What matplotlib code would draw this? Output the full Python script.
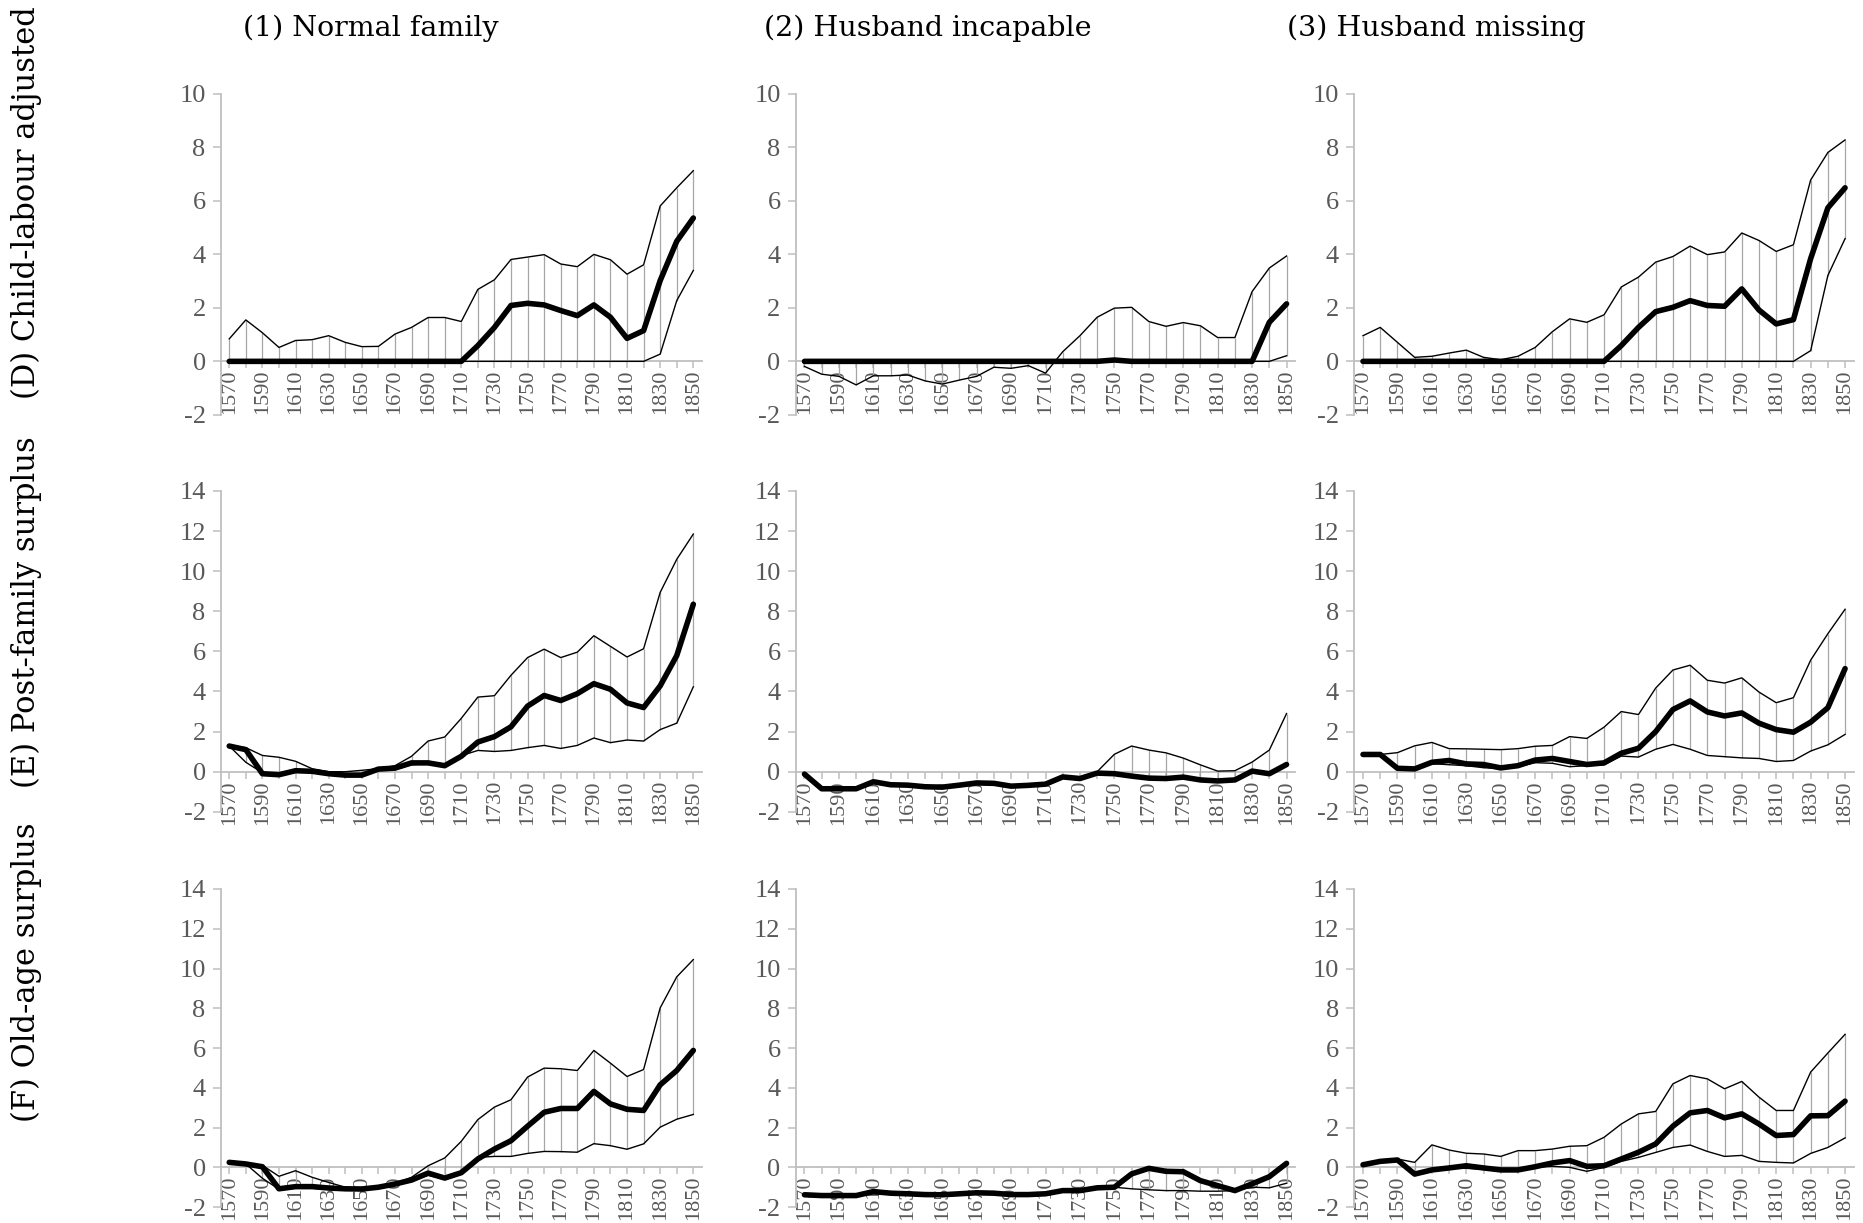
import matplotlib
matplotlib.use("Agg")
import matplotlib.pyplot as plt

plt.rcParams["axes.unicode_minus"] = False
plt.rcParams["font.family"] = ["Liberation Serif", "DejaVu Serif"]
plt.rcParams["xtick.labelsize"] = 16
plt.rcParams["ytick.labelsize"] = 19

# decades on the category axis
years = [1570, 1580, 1590, 1600, 1610, 1620, 1630, 1640, 1650, 1660,
         1670, 1680, 1690, 1700, 1710, 1720, 1730, 1740, 1750, 1760,
         1770, 1780, 1790, 1800, 1810, 1820, 1830, 1840, 1850]
tick_years = years[::2]

col_titles = ["(1) Normal family", "(2) Husband incapable", "(3) Husband missing"]
row_titles = ["(D) Child-labour adjusted", "(E) Post-family surplus", "(F) Old-age surplus"]

# (D) child-labour adjusted
d1_high = [0.84, 1.55, 1.07, 0.52, 0.78, 0.81, 0.96, 0.71, 0.55, 0.56, 1.02, 1.27, 1.64, 1.64, 1.49,
           2.69, 3.05, 3.81, 3.90, 3.99, 3.64, 3.54, 4.0, 3.8, 3.26, 3.61, 5.81, 6.49, 7.13]
d1_mid = [0, 0, 0, 0, 0, 0, 0, 0, 0, 0, 0, 0, 0, 0, 0,
          0.59, 1.27, 2.09, 2.17, 2.11, 1.9, 1.71, 2.11, 1.65, 0.86, 1.15, 3.02, 4.49, 5.36]
d1_low = [0, 0, 0, 0, 0, 0, 0, 0, 0, 0, 0, 0, 0, 0, 0,
          0, 0, 0, 0, 0, 0, 0, 0, 0, 0, 0, 0.27, 2.27, 3.4]

d2_high = [-0.19, -0.48, -0.56, -0.88, -0.54, -0.54, -0.51, -0.73, -0.85, -0.70, -0.56, -0.22, -0.26, -0.16, -0.44,
           0.36, 0.96, 1.65, 1.99, 2.02, 1.49, 1.31, 1.45, 1.33, 0.89, 0.89, 2.61, 3.49, 3.94]
d2_mid = [0, 0, 0, 0, 0, 0, 0, 0, 0, 0, 0, 0, 0, 0, 0,
          0, 0, 0, 0.05, 0, 0, 0, 0, 0, 0, 0, 0, 1.46, 2.15]
d2_low = [0, 0, 0, 0, 0, 0, 0, 0, 0, 0, 0, 0, 0, 0, 0,
          0, 0, 0, 0, 0, 0, 0, 0, 0, 0, 0, 0, 0, 0.21]

d3_high = [0.96, 1.27, 0.71, 0.15, 0.19, 0.31, 0.42, 0.15, 0.06, 0.19, 0.52, 1.11, 1.59, 1.46, 1.74,
           2.78, 3.15, 3.71, 3.92, 4.31, 3.99, 4.09, 4.8, 4.52, 4.11, 4.36, 6.78, 7.81, 8.28]
d3_mid = [0, 0, 0, 0, 0, 0, 0, 0, 0, 0, 0, 0, 0, 0, 0,
          0.59, 1.27, 1.86, 2.02, 2.27, 2.09, 2.06, 2.71, 1.92, 1.4, 1.56, 3.84, 5.74, 6.49]
d3_low = [0, 0, 0, 0, 0, 0, 0, 0, 0, 0, 0, 0, 0, 0, 0,
          0, 0, 0, 0, 0, 0, 0, 0, 0, 0, 0, 0.4, 3.21, 4.59]

# (E) post-family surplus
e1_high = [1.28, 1.2, 0.81, 0.72, 0.52, 0.15, 0.0, 0.0, 0.07, 0.15, 0.3, 0.77, 1.53, 1.73, 2.66,
           3.72, 3.79, 4.81, 5.69, 6.11, 5.69, 5.96, 6.78, 6.25, 5.72, 6.13, 8.94, 10.59, 11.85]
e1_mid = [1.28, 1.1, -0.1, -0.15, 0.05, 0.02, -0.1, -0.17, -0.17, 0.13, 0.18, 0.44, 0.44, 0.3, 0.77,
          1.48, 1.75, 2.24, 3.27, 3.8, 3.55, 3.89, 4.39, 4.11, 3.43, 3.2, 4.28, 5.79, 8.35]
e1_low = [1.28, 0.47, -0.05, -0.1, 0.0, 0.0, -0.1, -0.15, -0.15, 0.1, 0.1, 0.35, 0.4, 0.3, 0.8,
          1.06, 1.01, 1.06, 1.2, 1.31, 1.16, 1.31, 1.68, 1.45, 1.58, 1.53, 2.1, 2.42, 4.23]

e2_high = [-0.12, -0.85, -0.85, -0.85, -0.5, -0.65, -0.67, -0.75, -0.77, -0.67, -0.56, -0.58, -0.72, -0.68, -0.62,
           -0.26, -0.34, 0.0, 0.87, 1.28, 1.08, 0.94, 0.68, 0.34, 0.03, 0.05, 0.48, 1.08, 2.9]
e2_mid = [-0.12, -0.85, -0.85, -0.85, -0.5, -0.65, -0.67, -0.75, -0.77, -0.67, -0.56, -0.58, -0.72, -0.68, -0.62,
          -0.26, -0.34, -0.07, -0.1, -0.22, -0.32, -0.34, -0.27, -0.41, -0.46, -0.41, 0.03, -0.1, 0.36]
e2_low = [-0.12, -0.85, -0.85, -0.85, -0.5, -0.65, -0.67, -0.75, -0.77, -0.67, -0.56, -0.58, -0.72, -0.68, -0.62,
          -0.26, -0.34, -0.07, -0.1, -0.22, -0.32, -0.34, -0.27, -0.41, -0.46, -0.41, 0.03, -0.1, 0.36]

e3_high = [0.86, 0.86, 0.95, 1.29, 1.46, 1.15, 1.14, 1.12, 1.1, 1.15, 1.27, 1.31, 1.75, 1.66, 2.22,
           3.0, 2.85, 4.17, 5.07, 5.31, 4.56, 4.42, 4.68, 3.97, 3.44, 3.69, 5.56, 6.88, 8.1]
e3_mid = [0.86, 0.86, 0.17, 0.14, 0.47, 0.56, 0.39, 0.36, 0.19, 0.3, 0.58, 0.66, 0.51, 0.36, 0.44,
          0.92, 1.17, 2.0, 3.1, 3.53, 2.98, 2.78, 2.93, 2.42, 2.1, 1.97, 2.47, 3.19, 5.14]
e3_low = [0.86, 0.86, 0.1, 0.1, 0.4, 0.35, 0.3, 0.2, 0.15, 0.25, 0.45, 0.42, 0.25, 0.3, 0.35,
          0.78, 0.73, 1.12, 1.36, 1.12, 0.81, 0.75, 0.69, 0.66, 0.51, 0.56, 1.03, 1.34, 1.86]

# (F) old-age surplus
f1_high = [0.25, 0.17, 0.1, -0.45, -0.17, -0.5, -0.76, -1.0, -1.05, -0.95, -0.8, -0.5, 0.08, 0.47, 1.31,
           2.4, 3.03, 3.4, 4.54, 4.99, 4.96, 4.87, 5.88, 5.24, 4.57, 4.92, 8.02, 9.58, 10.45]
f1_mid = [0.25, 0.17, 0.03, -1.08, -0.97, -0.97, -1.04, -1.08, -1.09, -1.0, -0.84, -0.64, -0.29, -0.54, -0.27,
          0.42, 0.92, 1.34, 2.07, 2.77, 2.96, 2.96, 3.82, 3.19, 2.92, 2.86, 4.15, 4.87, 5.88]
f1_low = [0.25, 0.17, -0.55, -1.1, -1.05, -1.05, -1.1, -1.1, -1.12, -1.05, -0.9, -0.7, -0.4, -0.6, -0.3,
          0.5, 0.55, 0.55, 0.7, 0.8, 0.79, 0.76, 1.19, 1.09, 0.91, 1.18, 2.02, 2.42, 2.66]

f2_high = [-1.38, -1.42, -1.42, -1.42, -1.22, -1.3, -1.33, -1.37, -1.38, -1.33, -1.28, -1.3, -1.37, -1.37, -1.33,
           -1.17, -1.17, -1.03, -1.0, -0.33, -0.05, -0.2, -0.22, -0.67, -0.92, -1.17, -0.83, -0.47, 0.2]
f2_mid = [-1.38, -1.42, -1.42, -1.42, -1.22, -1.3, -1.33, -1.37, -1.38, -1.33, -1.28, -1.3, -1.37, -1.37, -1.33,
          -1.17, -1.17, -1.03, -1.0, -0.33, -0.05, -0.2, -0.22, -0.67, -0.92, -1.17, -0.83, -0.47, 0.2]
f2_low = [-1.38, -1.42, -1.42, -1.42, -1.22, -1.3, -1.33, -1.37, -1.38, -1.33, -1.28, -1.3, -1.37, -1.37, -1.33,
          -1.17, -1.17, -1.03, -1.0, -1.08, -1.13, -1.17, -1.17, -1.2, -1.2, -1.17, -1.0, -1.03, -0.8]

f3_high = [0.17, 0.34, 0.42, 0.25, 1.13, 0.87, 0.71, 0.67, 0.55, 0.84, 0.84, 0.92, 1.06, 1.09, 1.51,
           2.18, 2.69, 2.81, 4.2, 4.62, 4.45, 3.95, 4.32, 3.53, 2.86, 2.86, 4.79, 5.75, 6.69]
f3_mid = [0.13, 0.3, 0.37, -0.34, -0.13, -0.03, 0.08, -0.03, -0.13, -0.13, 0.03, 0.22, 0.34, 0.05, 0.08,
          0.42, 0.76, 1.18, 2.07, 2.74, 2.86, 2.49, 2.69, 2.18, 1.6, 1.65, 2.59, 2.6, 3.33]
f3_low = [0.13, 0.3, 0.37, -0.34, -0.15, -0.05, -0.05, -0.1, -0.15, -0.15, 0.0, 0.05, 0.0, -0.2, 0.0,
          0.3, 0.5, 0.75, 1.0, 1.12, 0.8, 0.55, 0.6, 0.3, 0.25, 0.22, 0.7, 1.0, 1.48]

panels = [
    [(d1_high, d1_mid, d1_low), (d2_high, d2_mid, d2_low), (d3_high, d3_mid, d3_low)],
    [(e1_high, e1_mid, e1_low), (e2_high, e2_mid, e2_low), (e3_high, e3_mid, e3_low)],
    [(f1_high, f1_mid, f1_low), (f2_high, f2_mid, f2_low), (f3_high, f3_mid, f3_low)],
]
row_ymax = [10, 14, 14]

AXIS_GRAY = "#bfbfbf"
LABEL_GRAY = "#595959"

fig = plt.figure(figsize=(18.63, 12.23), dpi=100)

# panel placement in figure fractions
col_left = [0.1186, 0.4272, 0.7270]
col_width = [0.258, 0.268, 0.268]
row_bottom = [0.6608, 0.3362, 0.0130]
row_height = [0.2624, 0.2624, 0.2601]


def draw_panel(ax, high, mid, low, ymax):
    ax.vlines(years, low, high, colors="#a6a6a6", linewidth=0.9, zorder=3)
    ax.plot(years, high, color="black", linewidth=1.0, zorder=3.5)
    ax.plot(years, low, color="black", linewidth=1.0, zorder=3.5)
    ax.plot(years, mid, color="black", linewidth=4.0, zorder=4,
            solid_capstyle="round", solid_joinstyle="round")

    ax.set_xlim(1565, 1855)
    ax.set_ylim(-2, ymax)
    ax.set_yticks(range(-2, ymax + 1, 2))
    ax.set_xticks(years, minor=True)
    ax.set_xticks(tick_years)
    ax.set_xticklabels([str(y) for y in tick_years])

    ax.spines["top"].set_visible(False)
    ax.spines["right"].set_visible(False)
    ax.spines["bottom"].set_position(("data", 0))
    for s in ("left", "bottom"):
        ax.spines[s].set_color(AXIS_GRAY)
        ax.spines[s].set_linewidth(1.3)
    ax.tick_params(axis="both", which="both", color=AXIS_GRAY, width=1.1, direction="out")
    ax.tick_params(axis="x", which="both", length=5, pad=1, labelrotation=90,
                   labelcolor=LABEL_GRAY)
    ax.tick_params(axis="y", length=6, pad=5, labelcolor=LABEL_GRAY)
    ax.patch.set_alpha(0)


for r in range(3):
    for c in range(3):
        ax = fig.add_axes([col_left[c], row_bottom[r], col_width[c], row_height[r]])
        high, mid, low = panels[r][c]
        draw_panel(ax, high, mid, low, row_ymax[r])

title_x = [0.1307, 0.4100, 0.6907]
for c in range(3):
    fig.text(title_x[c], 0.9767, col_titles[c], ha="left", va="center",
             fontfamily="DejaVu Serif", fontsize=20.5)

row_y = [0.834, 0.4995, 0.205]
for r in range(3):
    fig.text(0.014, row_y[r], row_titles[r], ha="center", va="center", rotation=90,
             fontfamily="DejaVu Serif", fontsize=22)

fig.savefig("out.png", dpi=100)
